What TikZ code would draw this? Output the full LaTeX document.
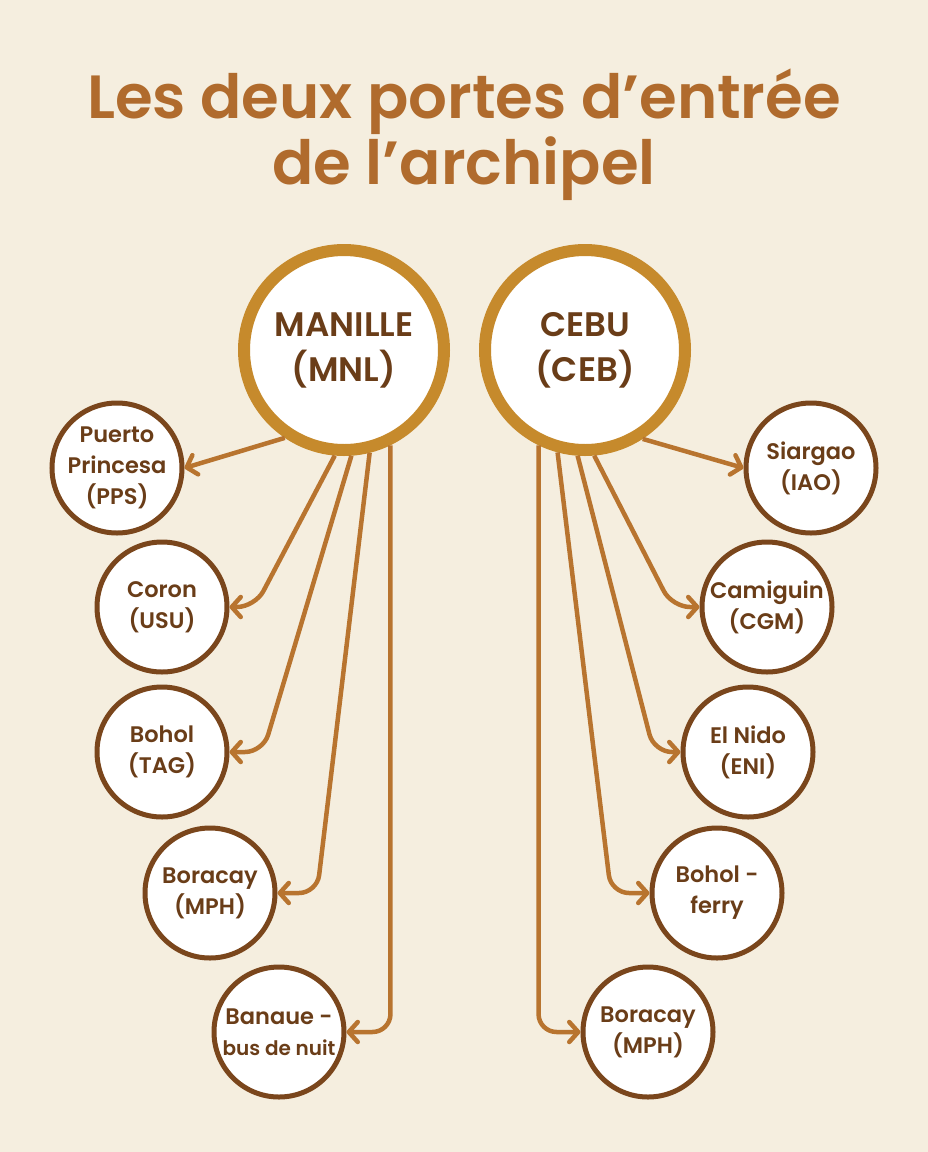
\documentclass[tikz,border=0pt]{standalone}
\usepackage{fontspec}
\setmainfont{Poppins}[BoldFont={Poppins SemiBold}]
\usetikzlibrary{arrows.meta}

\definecolor{fond}{HTML}{F5EEDF}
\definecolor{titre}{HTML}{B06B2D}
\definecolor{anneau}{HTML}{C68A2C}
\definecolor{bord}{HTML}{7A461C}
\definecolor{cuivre}{HTML}{B8742F}
\definecolor{encre}{HTML}{6A3D18}

\begin{document}
\begin{tikzpicture}[x=1pt,y=-1pt,>={Straight Barb[length=9pt,width=20pt,round]},
  hub/.style={circle,draw=anneau,line width=12pt,fill=white,minimum size=200pt,
    inner sep=0pt,align=center,text=encre,font=\bfseries\fontsize{34}{45}\selectfont},
  dest/.style={circle,draw=bord,line width=5pt,fill=white,minimum size=130pt,
    inner sep=0pt,align=center,text=encre,font=\bfseries\fontsize{22.5}{31}\selectfont},
  link/.style={->,draw=cuivre,line width=4.5pt,rounded corners=18pt}]

\fill[fond] (0,0) rectangle (928,1152);
\useasboundingbox (0,0) rectangle (928,1152);

\node[anchor=base,text=titre,font=\bfseries\fontsize{61}{67}\selectfont] (t1) at (464,118) {Les deux portes d’entrée};
\node[anchor=base,text=titre,font=\bfseries\fontsize{61}{67}\selectfont] (t2) at (464,184) {de l’archipel};

\node[hub] (MNL) at (344,350) {MANILLE\\(MNL)};
\node[hub] (CEB) at (585,350) {CEBU\\(CEB)};

% Manille
\node[dest] (PPS)  at (117,468)  {Puerto\\Princesa\\(PPS)};
\node[dest] (USU)  at (162,607)  {Coron\\(USU)};
\node[dest] (TAG)  at (162,752)  {Bohol\\(TAG)};
\node[dest] (MPHa) at (210,893)  {Boracay\\(MPH)};
\node[dest] (BAN)  at (279,1032) {Banaue -\\{\fontsize{20}{29}\selectfont bus de nuit}};

% Cebu
\node[dest] (IAO)  at (811,468)  {Siargao\\(IAO)};
\node[dest] (CGM)  at (767,607)  {Camiguin\\(CGM)};
\node[dest] (ENI)  at (748,752)  {El Nido\\(ENI)};
\node[dest] (BHF)  at (717,893)  {Bohol -\\ferry};
\node[dest] (MPHb) at (648,1032) {Boracay\\(MPH)};

\draw[link] (MNL.236) -- (PPS.east);
\draw[link] (MNL.265) -- (255,607) -- (USU.east);
\draw[link] (MNL.274) -- (263,752) -- (TAG.east);
\draw[link] (MNL.284) -- (317,893) -- (MPHa.east);
\draw[link] (MNL.296) |- (BAN.east);

\draw[link] (CEB.303) -- (IAO.west);
\draw[link] (CEB.275) -- (672,607) -- (CGM.west);
\draw[link] (CEB.266) -- (654,752) -- (ENI.west);
\draw[link] (CEB.255) -- (611,893) -- (BHF.west);
\draw[link] (CEB.244) |- (MPHb.west);

\end{tikzpicture}
\end{document}
